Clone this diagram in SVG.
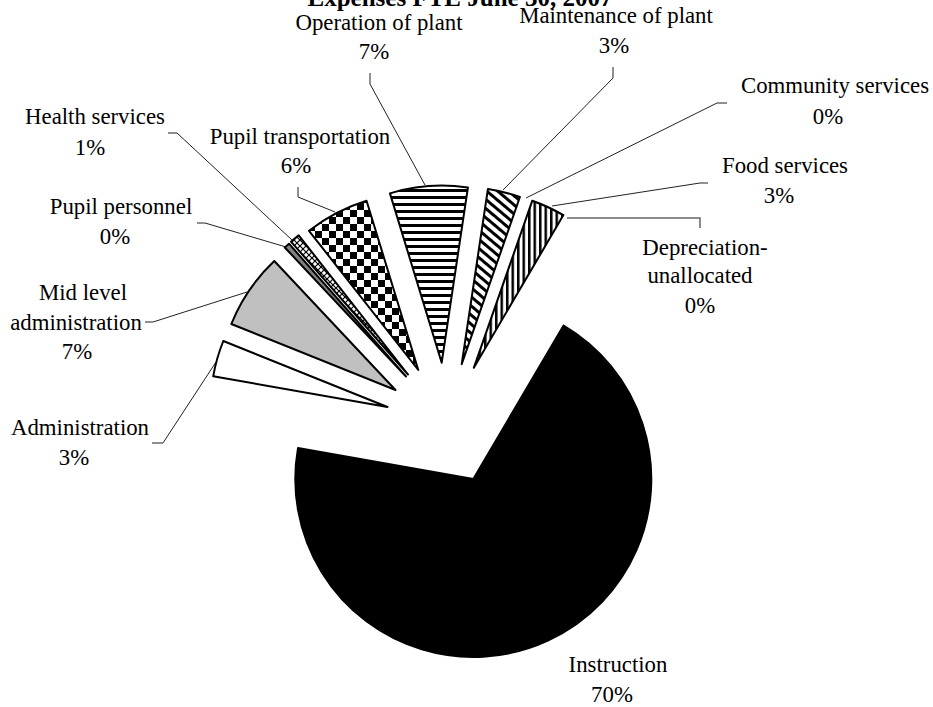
<svg xmlns="http://www.w3.org/2000/svg" width="933" height="707" viewBox="0 0 933 707">
<style>
text{font-family:"Liberation Serif","Times New Roman",serif;font-size:22.8px;fill:#000;text-anchor:middle}
.title{font-weight:bold;font-size:25px}
.slice{stroke:#000;stroke-width:2;stroke-linejoin:round}
.lead{fill:none;stroke:#222;stroke-width:1}
</style>
<defs>
<pattern id="hstripe" patternUnits="userSpaceOnUse" width="8" height="7">
<rect width="8" height="7" fill="#fff"/><rect y="0" width="8" height="3" fill="#000"/>
</pattern>
<pattern id="dstripe" patternUnits="userSpaceOnUse" width="8" height="7" patternTransform="rotate(40)">
<rect width="8" height="7" fill="#fff"/><rect y="0" width="8" height="3" fill="#000"/>
</pattern>
<pattern id="vstripe" patternUnits="userSpaceOnUse" width="5.5" height="8">
<rect width="5.5" height="8" fill="#fff"/><rect x="0" width="2.5" height="8" fill="#000"/>
</pattern>
<pattern id="checker" patternUnits="userSpaceOnUse" width="14" height="14">
<rect width="14" height="14" fill="#fff"/><rect width="7" height="7" fill="#000"/><rect x="7" y="7" width="7" height="7" fill="#000"/>
</pattern>
<pattern id="cross" patternUnits="userSpaceOnUse" width="6" height="6">
<rect width="6" height="6" fill="#fff"/><path d="M0,0L6,6M6,0L0,6" stroke="#000" stroke-width="1.2"/>
</pattern>
</defs>
<rect width="933" height="707" fill="#fff"/>
<text class="title" x="460" y="5.5">Expenses FTE June 30, 2007</text>

<g id="connectors">
<polyline class="lead" points="370,73 370,84 425,185"/>
<polyline class="lead" points="613,67 613,78 503,190"/>
<polyline class="lead" points="727,103 717,103 526,198"/>
<polyline class="lead" points="708,183 700,183 552,206"/>
<polyline class="lead" points="567,218 700,218 700,228" style="stroke:#666;stroke-width:1.5"/>
<polyline class="lead" points="298,187 298,197 335,212"/>
<polyline class="lead" points="168,133 177,133 292,240"/>
<polyline class="lead" points="197,223 205,223 286,247"/>
<polyline class="lead" points="145,322 153,322 247,292"/>
<polyline class="lead" points="152,443 163,443 216,362"/>
</g>

<g id="instruction">
<path class="slice" fill="#000" d="M473.3,479 L563.6,325.6 A178,178 0 1 1 298,448.1 Z"/>
<text x="618" y="672">Instruction</text>
<text x="612" y="702">70%</text>
</g>
<g id="operation">
<path class="slice" fill="url(#hstripe)" d="M441.7,362.7 L389.95,193.4 A177,177 0 0 1 467.9,187.6 Z"/>
<text x="379" y="30">Operation of plant</text>
<text x="374" y="59">7%</text>
</g>
<g id="maintenance">
<path class="slice" fill="url(#dstripe)" d="M461.7,364.2 L487.9,189.1 A177,177 0 0 1 519.9,197 Z"/>
<text x="616" y="23">Maintenance of plant</text>
<text x="614" y="53">3%</text>
</g>
<g id="community">
<text x="835" y="93">Community services</text>
<text x="828" y="124">0%</text>
</g>
<g id="food">
<path class="slice" fill="url(#vstripe)" d="M473.8,367.8 L532.3,200.7 A177,177 0 0 1 563.4,215.1 Z"/>
<text x="785" y="173">Food services</text>
<text x="779" y="203">3%</text>
</g>
<g id="depreciation">
<text x="705" y="255">Depreciation-</text>
<text x="700" y="283">unallocated</text>
<text x="700" y="313">0%</text>
</g>
<g id="administration">
<path class="slice" fill="#fff" d="M387.5,407 L213.2,376.3 A177,177 0 0 1 223.3,341 Z"/>
<text x="80" y="435">Administration</text>
<text x="74" y="465">3%</text>
</g>
<g id="midlevel">
<path class="slice" fill="#c0c0c0" d="M395.5,390 L231.3,324 A177,177 0 0 1 274.3,261 Z"/>
<text x="83" y="300">Mid level</text>
<text x="76" y="330">administration</text>
<text x="77" y="359">7%</text>
</g>
<g id="pupilpersonnel">
<path class="slice" fill="#808080" d="M406,376.5 L284.8,247.5 A177,177 0 0 1 289,243.7 Z"/>
<text x="121" y="214">Pupil personnel</text>
<text x="115" y="244">0%</text>
</g>
<g id="health">
<path class="slice" fill="url(#cross)" d="M408,374.5 L291,241.7 A177,177 0 0 1 298.7,235.3 Z"/>
<text x="95" y="124">Health services</text>
<text x="90" y="155">1%</text>
</g>
<g id="pupiltransportation">
<path class="slice" fill="url(#checker)" d="M418.3,370 L309,230.8 A177,177 0 0 1 366.55,200.7 Z"/>
<text x="300" y="144">Pupil transportation</text>
<text x="296" y="173">6%</text>
</g>
</svg>
